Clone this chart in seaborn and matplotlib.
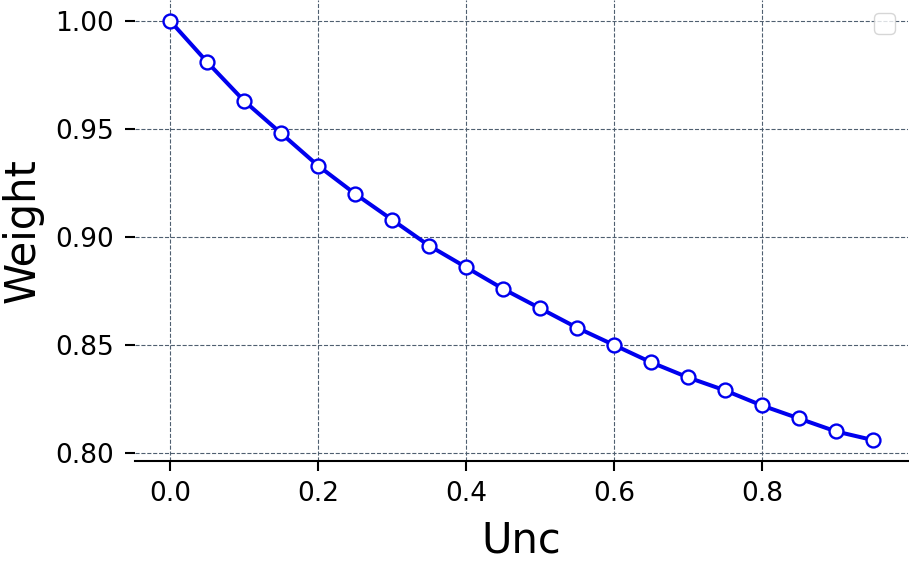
import matplotlib
matplotlib.use("Agg")
import matplotlib.pyplot as plt
import seaborn as sns
import pandas as pd

unc = [0.00, 0.05, 0.10, 0.15, 0.20, 0.25, 0.30, 0.35, 0.40, 0.45,
       0.50, 0.55, 0.60, 0.65, 0.70, 0.75, 0.80, 0.85, 0.90, 0.95]
weight = [1.000, 0.981, 0.963, 0.948, 0.933, 0.920, 0.908, 0.896, 0.886, 0.876,
          0.867, 0.858, 0.850, 0.842, 0.835, 0.829, 0.822, 0.816, 0.810, 0.806]
xticks = [0.0, 0.2, 0.4, 0.6, 0.8]
yticks = [0.80, 0.85, 0.90, 0.95, 1.00]

sns.set_style("white")
plt.rcParams['font.family'] = ['DejaVu Sans']
plt.rcParams['text.color'] = 'black'
plt.rcParams['axes.labelcolor'] = 'black'
plt.rcParams['xtick.color'] = 'black'
plt.rcParams['ytick.color'] = 'black'

df = pd.DataFrame({"Unc": unc, "Weight": weight})

fig = plt.figure(figsize=(9.09, 5.62), dpi=100)
ax = fig.add_axes([135/909, 101/562, 773/909, 461/562])

sns.lineplot(data=df, x="Unc", y="Weight", ax=ax, color="#0000ee",
             linewidth=2.9, marker="o", markersize=10,
             markerfacecolor="white", markeredgecolor="#0000ee",
             markeredgewidth=1.7)

ax.set_xticks(xticks)
ax.set_yticks(yticks)
ax.set_yticklabels([f"{v:.2f}" for v in yticks])
ax.set_xticklabels([f"{v:.1f}" for v in xticks])
ax.grid(True, linestyle="--", color="#4f5f70", linewidth=0.8)
ax.set_axisbelow(True)

for s in ["top", "right", "left"]:
    ax.spines[s].set_visible(False)
ax.spines["bottom"].set_color("black")
ax.spines["bottom"].set_linewidth(1.5)

ax.tick_params(axis="both", which="major", labelsize=19, length=7.2,
               width=1.5, color="black", labelcolor="black", left=True, bottom=True)
ax.tick_params(axis="y", pad=8)
ax.tick_params(axis="x", pad=7)
ax.set_xlabel("Unc", fontsize=30, color="black", labelpad=9)
ax.set_ylabel("Weight", fontsize=30, color="black", labelpad=8)

ax.legend(handles=[], loc="upper right", fontsize=19)

fig.savefig("out.png", dpi=100)
